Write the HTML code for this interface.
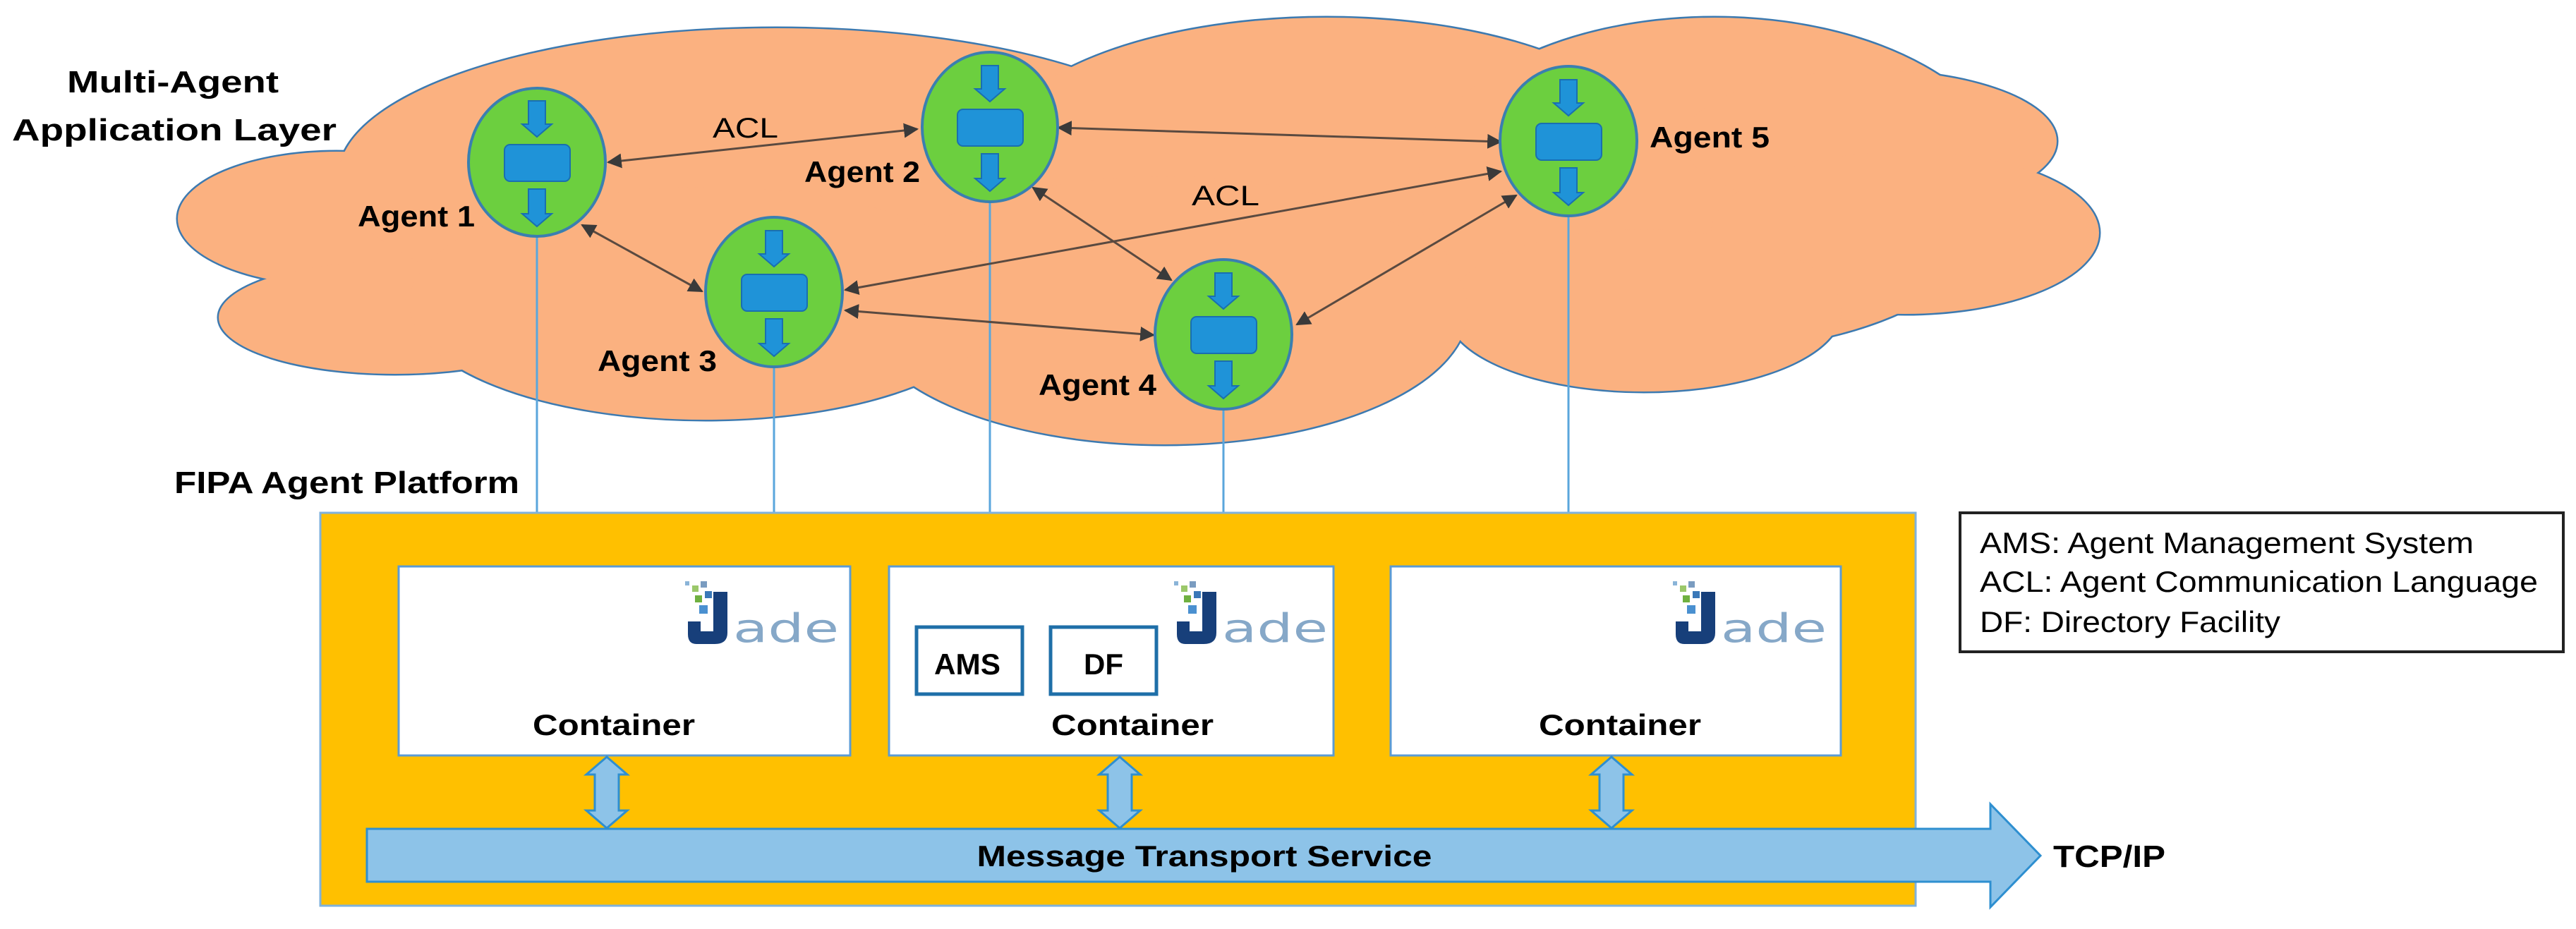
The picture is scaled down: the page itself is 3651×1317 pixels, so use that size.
<!DOCTYPE html>
<html><head><meta charset="utf-8"><style>html,body{margin:0;padding:0;background:#fff}svg{display:block}</style></head>
<body>
<svg width="3651" height="1317" viewBox="0 0 3651 1317" xmlns="http://www.w3.org/2000/svg" font-family="Liberation Sans, Arial, sans-serif">
<defs>
<marker id="ah" viewBox="0 0 10 10" refX="9" refY="5" markerWidth="7" markerHeight="7" orient="auto-start-reverse" markerUnits="strokeWidth">
<path d="M0,0 L10,5 L0,10 z" fill="#3a3a3a"/></marker>
<g id="lobes">
<ellipse cx="477" cy="310" rx="225" ry="95"/>
<ellipse cx="560" cy="450" rx="250" ry="80"/>
<ellipse cx="1100" cy="250" rx="620" ry="210"/>
<ellipse cx="1880" cy="230" rx="480" ry="205"/>
<ellipse cx="2430" cy="260" rx="420" ry="235"/>
<ellipse cx="2650" cy="200" rx="265" ry="100"/>
<ellipse cx="2700" cy="330" rx="275" ry="115"/>
<ellipse cx="2330" cy="440" rx="280" ry="115"/>
<ellipse cx="1650" cy="440" rx="430" ry="190"/>
<ellipse cx="1000" cy="430" rx="420" ry="165"/>
</g>
<g id="agent">
<path d="M-12,-87 h24 v33 h9 l-21,18 l-21,-18 h9 z" fill="#1f93d8" stroke="#1a6fb0" stroke-width="2"/>
<rect x="-46" y="-25" width="93" height="52" rx="8" fill="#1f93d8" stroke="#1a6fb0" stroke-width="2"/>
<path d="M-12,38 h24 v35 h9 l-21,18 l-21,-18 h9 z" fill="#1f93d8" stroke="#1a6fb0" stroke-width="2"/>
</g>
<g id="jade">
<rect x="0" y="0" width="6" height="6" fill="#8ab4d8"/>
<rect x="10" y="6" width="9" height="9" fill="#9bc86a"/>
<rect x="22" y="0" width="9" height="9" fill="#7a9cc0"/>
<rect x="14" y="20" width="10" height="10" fill="#6fb040"/>
<rect x="28" y="14" width="10" height="10" fill="#3a78b8"/>
<rect x="20" y="34" width="12" height="12" fill="#4a90d0"/>
<path d="M40,15 h20 v58 q0,16 -18,16 h-26 q-12,0 -12,-14 v-18 h18 v14 h18 z" fill="#173f7a"/>
<text x="68" y="86" font-size="56" fill="#86a8c8" font-family="DejaVu Sans, sans-serif" font-weight="normal" textLength="150" lengthAdjust="spacingAndGlyphs">ade</text>
</g>
<g id="darr">
<path d="M0,0 l29,25 h-12 v51 h12 l-29,25 l-29,-25 h12 v-51 h-12 z" fill="#8dc3e8" stroke="#2e8fd0" stroke-width="3"/>
</g>
</defs>

<!-- cloud -->
<g fill="none" stroke="#3d7ab0" stroke-width="5"><use href="#lobes"/></g>
<g fill="#fbb180" stroke="none"><use href="#lobes"/></g>

<!-- titles -->
<text x="245" y="131" font-size="44" font-weight="bold" text-anchor="middle" textLength="300" lengthAdjust="spacingAndGlyphs">Multi-Agent</text>
<text x="247" y="199" font-size="44" font-weight="bold" text-anchor="middle" textLength="460" lengthAdjust="spacingAndGlyphs">Application Layer</text>
<text x="247" y="699" font-size="44" font-weight="bold" textLength="489" lengthAdjust="spacingAndGlyphs">FIPA Agent Platform</text>

<!-- vertical lines -->
<g stroke="#5aa6dc" stroke-width="3">
<line x1="761" y1="335" x2="761" y2="805"/>
<line x1="1097" y1="520" x2="1097" y2="805"/>
<line x1="1403" y1="286" x2="1403" y2="805"/>
<line x1="1734" y1="580" x2="1734" y2="805"/>
<line x1="2223" y1="306" x2="2223" y2="805"/>
</g>

<!-- connectors -->
<g stroke="#5a4a40" stroke-width="3" marker-start="url(#ah)" marker-end="url(#ah)" fill="none">
<line x1="862" y1="230" x2="1300" y2="183"/>
<line x1="1500" y1="181" x2="2127" y2="201"/>
<line x1="2127" y1="243" x2="1198" y2="411"/>
<line x1="1198" y1="440" x2="1635" y2="475"/>
<line x1="825" y1="319" x2="995" y2="413"/>
<line x1="1464" y1="266" x2="1660" y2="397"/>
<line x1="2149" y1="277" x2="1838" y2="460"/>
</g>

<!-- agents -->
<g fill="#6ccf3f" stroke="#3a7fb0" stroke-width="4">
<ellipse cx="761" cy="230" rx="97" ry="105"/>
<ellipse cx="1403" cy="180" rx="96" ry="106"/>
<ellipse cx="1097" cy="414" rx="97" ry="106"/>
<ellipse cx="1734" cy="474" rx="97" ry="106"/>
<ellipse cx="2223" cy="200" rx="97" ry="106"/>
</g>
<use href="#agent" x="761" y="230"/>
<use href="#agent" x="1403" y="180"/>
<use href="#agent" x="1097" y="414"/>
<use href="#agent" x="1734" y="474"/>
<use href="#agent" x="2223" y="200"/>

<g font-size="42" font-weight="bold">
<text x="507" y="321" textLength="166" lengthAdjust="spacingAndGlyphs">Agent 1</text>
<text x="1140" y="258" textLength="164" lengthAdjust="spacingAndGlyphs">Agent 2</text>
<text x="847" y="526" textLength="169" lengthAdjust="spacingAndGlyphs">Agent 3</text>
<text x="1472" y="560" textLength="167" lengthAdjust="spacingAndGlyphs">Agent 4</text>
<text x="2338" y="209" textLength="170" lengthAdjust="spacingAndGlyphs">Agent 5</text>
</g>
<g font-size="40">
<text x="1010" y="195" textLength="93" lengthAdjust="spacingAndGlyphs">ACL</text>
<text x="1689" y="291" textLength="96" lengthAdjust="spacingAndGlyphs">ACL</text>
</g>

<!-- platform -->
<rect x="454" y="727" width="2261" height="557" fill="#ffc000" stroke="#7fb2dc" stroke-width="3"/>
<g fill="#fff" stroke="#5b9bd5" stroke-width="3">
<rect x="565" y="803" width="640" height="268"/>
<rect x="1260" y="803" width="630" height="268"/>
<rect x="1971" y="803" width="638" height="268"/>
</g>
<use href="#jade" x="971" y="824"/>
<use href="#jade" x="1664" y="824"/>
<use href="#jade" x="2371" y="824"/>
<g fill="#fff" stroke="#1f6fa8" stroke-width="5">
<rect x="1299" y="889" width="150" height="95"/>
<rect x="1489" y="889" width="150" height="95"/>
</g>
<g font-size="42" font-weight="bold" text-anchor="middle">
<text x="1371" y="956" textLength="94" lengthAdjust="spacingAndGlyphs">AMS</text>
<text x="1564" y="956" textLength="56" lengthAdjust="spacingAndGlyphs">DF</text>
<text x="870" y="1042" textLength="230" lengthAdjust="spacingAndGlyphs">Container</text>
<text x="1605" y="1042" textLength="230" lengthAdjust="spacingAndGlyphs">Container</text>
<text x="2296" y="1042" textLength="230" lengthAdjust="spacingAndGlyphs">Container</text>
</g>

<!-- MTS arrow -->
<path d="M520,1175 H2821 V1140 L2892,1213 L2821,1286 V1250 H520 Z" fill="#8dc3e8" stroke="#2e8fd0" stroke-width="3"/>
<text x="1707" y="1228" font-size="42" font-weight="bold" text-anchor="middle" textLength="645" lengthAdjust="spacingAndGlyphs">Message Transport Service</text>
<text x="2910" y="1229" font-size="44" font-weight="bold" textLength="159" lengthAdjust="spacingAndGlyphs">TCP/IP</text>

<use href="#darr" x="860" y="1073"/>
<use href="#darr" x="1587" y="1073"/>
<use href="#darr" x="2284" y="1073"/>

<!-- legend -->
<rect x="2778" y="727" width="855" height="197" fill="#fff" stroke="#222" stroke-width="4"/>
<g font-size="42">
<text x="2806" y="784" textLength="700" lengthAdjust="spacingAndGlyphs">AMS: Agent Management System</text>
<text x="2806" y="839" textLength="791" lengthAdjust="spacingAndGlyphs">ACL: Agent Communication Language</text>
<text x="2806" y="896" textLength="426" lengthAdjust="spacingAndGlyphs">DF: Directory Facility</text>
</g>
</svg>
</body></html>
